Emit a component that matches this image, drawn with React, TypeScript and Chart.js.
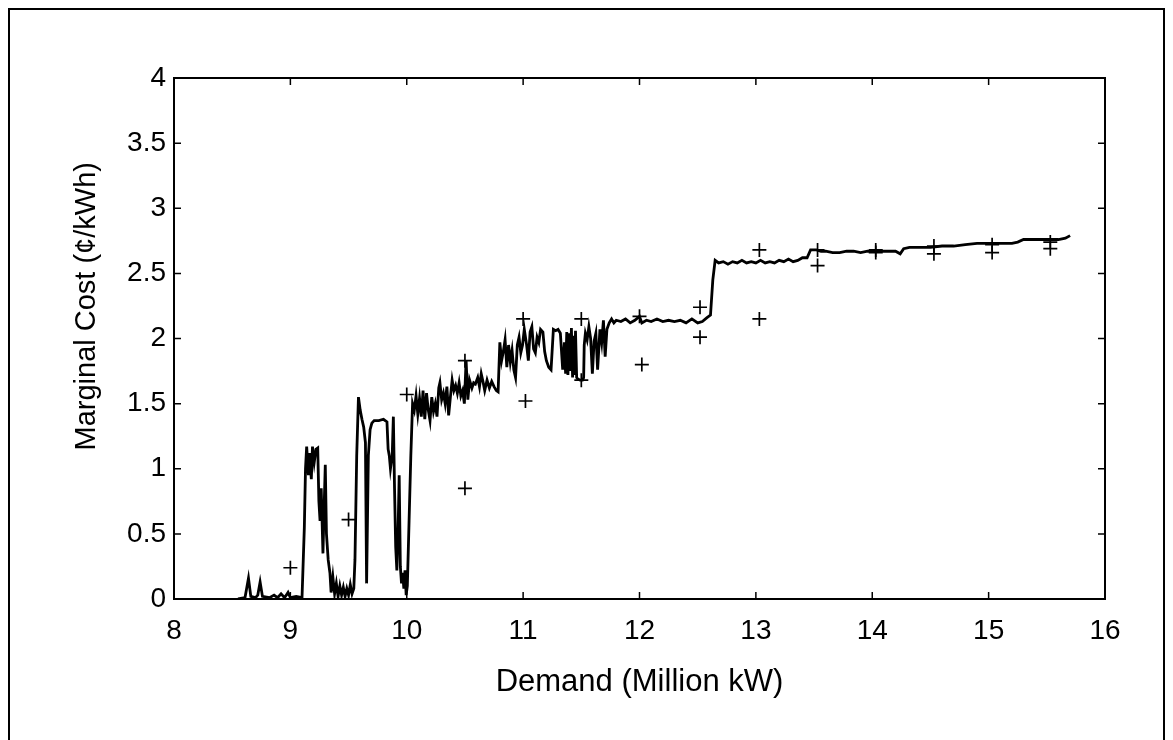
import { useEffect, useRef } from "react";
import { Chart, registerables } from "chart.js";

Chart.register(...registerables);

// Axis ticks
const xTickValues = [8, 9, 10, 11, 12, 13, 14, 15, 16];
const yTickValues = [0, 0.5, 1, 1.5, 2, 2.5, 3, 3.5, 4];

// Simulated marginal cost curve (solid line)
const curveX = [
  8.55, 8.61, 8.64, 8.66, 8.7, 8.72, 8.74, 8.76, 8.82, 8.86, 8.89, 8.92, 8.95, 8.98, 9.0, 9.05, 9.1,
  9.12, 9.13, 9.14, 9.155, 9.165, 9.18, 9.19, 9.205, 9.22, 9.235, 9.245, 9.255, 9.265, 9.28, 9.29, 9.3,
  9.31, 9.325, 9.34, 9.35, 9.365, 9.38, 9.395, 9.41, 9.425, 9.44, 9.455, 9.47, 9.485, 9.5, 9.515, 9.53,
  9.545, 9.555, 9.57, 9.585, 9.6, 9.615, 9.63, 9.645, 9.655, 9.67, 9.685, 9.7, 9.72, 9.76, 9.8, 9.83,
  9.84, 9.85, 9.86, 9.875, 9.885, 9.895, 9.905, 9.915, 9.925, 9.935, 9.945, 9.955, 9.965, 9.975, 9.985,
  9.995, 10.005, 10.02, 10.035, 10.05, 10.065, 10.08, 10.095, 10.11, 10.125, 10.14, 10.155, 10.17,
  10.185, 10.2, 10.215, 10.23, 10.245, 10.26, 10.275, 10.285, 10.3, 10.315, 10.33, 10.345, 10.36,
  10.375, 10.39, 10.405, 10.42, 10.435, 10.45, 10.465, 10.48, 10.495, 10.51, 10.525, 10.54, 10.56,
  10.575, 10.59, 10.61, 10.625, 10.64, 10.655, 10.67, 10.69, 10.71, 10.73, 10.75, 10.77, 10.785, 10.8,
  10.815, 10.83, 10.845, 10.86, 10.875, 10.89, 10.905, 10.92, 10.935, 10.95, 10.965, 10.98, 10.995,
  11.01, 11.03, 11.045, 11.06, 11.075, 11.09, 11.105, 11.12, 11.135, 11.15, 11.17, 11.185, 11.2, 11.22,
  11.24, 11.26, 11.28, 11.3, 11.32, 11.34, 11.355, 11.365, 11.375, 11.385, 11.395, 11.405, 11.415,
  11.425, 11.435, 11.445, 11.45, 11.46, 11.47, 11.49, 11.51, 11.52, 11.525, 11.535, 11.55, 11.565,
  11.58, 11.595, 11.61, 11.625, 11.64, 11.66, 11.675, 11.69, 11.705, 11.72, 11.74, 11.76, 11.78, 11.8,
  11.84, 11.88, 11.92, 11.96, 12.0, 12.02, 12.06, 12.1, 12.15, 12.2, 12.25, 12.3, 12.35, 12.4, 12.45,
  12.5, 12.54, 12.58, 12.61, 12.63, 12.65, 12.68, 12.72, 12.76, 12.8, 12.84, 12.88, 12.92, 12.96, 13.0,
  13.04, 13.08, 13.12, 13.16, 13.2, 13.24, 13.28, 13.32, 13.36, 13.4, 13.44, 13.47, 13.52, 13.56, 13.6,
  13.66, 13.72, 13.78, 13.84, 13.9, 13.96, 14.02, 14.08, 14.14, 14.2, 14.24, 14.27, 14.32, 14.4, 14.5,
  14.6, 14.7, 14.8, 14.9, 15.0, 15.1, 15.2, 15.25, 15.3, 15.4, 15.5, 15.6, 15.66, 15.7,
];
const curveY = [
  0, 0.01, 0.16, 0.02, 0.01, 0.03, 0.13, 0.02, 0.01, 0.03, 0.01, 0.04, 0.01, 0.05, 0.01, 0.02, 0.01,
  0.55, 1.0, 1.17, 0.95, 1.12, 0.92, 1.17, 1.05, 1.15, 1.16, 0.75, 0.6, 0.85, 0.35, 0.7, 1.03,
  0.5, 0.3, 0.2, 0.05, 0.17, 0.04, 0.12, 0.02, 0.1, 0.03, 0.09, 0.02, 0.08, 0.03, 0.11, 0.04,
  0.08, 0.3, 1.1, 1.55, 1.45, 1.38, 1.32, 1.2, 0.12, 1.1, 1.3, 1.35, 1.37, 1.37, 1.38, 1.36,
  1.15, 1.1, 1.0, 1.1, 1.4, 0.85, 0.4, 0.22, 0.5, 0.95, 0.25, 0.12, 0.2, 0.08, 0.22,
  0.03, 0.1, 0.6, 1.1, 1.5, 1.45, 1.56, 1.42, 1.54, 1.4, 1.6, 1.38, 1.58,
  1.45, 1.37, 1.55, 1.44, 1.5, 1.4, 1.62, 1.66, 1.53, 1.58, 1.5, 1.63, 1.41,
  1.55, 1.68, 1.6, 1.64, 1.58, 1.66, 1.56, 1.6, 1.5, 1.83, 1.53, 1.68, 1.62,
  1.66, 1.65, 1.7, 1.63, 1.73, 1.67, 1.6, 1.68, 1.62, 1.67, 1.63, 1.6, 1.59, 1.97,
  1.83, 1.9, 1.99, 1.78, 1.95, 1.82, 1.91, 1.76, 1.7, 1.95, 2.01, 1.89, 1.95,
  2.07, 1.95, 1.83, 2.05, 2.09, 1.92, 1.89, 2.01, 1.97, 2.07, 2.05, 1.9, 1.83, 1.78,
  1.76, 2.07, 2.06, 2.07, 2.04, 1.76, 1.97, 1.73, 2.05, 1.72, 2.04, 1.75, 2.08,
  1.7, 2.02, 1.72, 2.06, 1.7, 1.69, 1.68, 1.68, 1.7, 1.95, 2.04, 1.99, 2.09,
  2.0, 1.73, 1.98, 2.04, 1.76, 2.07, 1.97, 2.14, 1.86, 2.07, 2.12, 2.15, 2.12, 2.14,
  2.13, 2.15, 2.12, 2.14, 2.17, 2.12, 2.14, 2.13, 2.15, 2.13, 2.14, 2.13, 2.14, 2.12, 2.15,
  2.12, 2.13, 2.16, 2.18, 2.45, 2.6, 2.58, 2.59, 2.57, 2.59, 2.58, 2.6, 2.58, 2.59, 2.58,
  2.6, 2.58, 2.59, 2.58, 2.6, 2.59, 2.61, 2.59, 2.6, 2.62, 2.62, 2.68, 2.68, 2.67, 2.67,
  2.66, 2.66, 2.67, 2.67, 2.66, 2.67, 2.67, 2.67, 2.67, 2.67, 2.65, 2.69, 2.7, 2.7, 2.7,
  2.71, 2.71, 2.72, 2.73, 2.73, 2.73, 2.73, 2.74, 2.76, 2.76, 2.76, 2.76, 2.77, 2.79,
];

// Observed marginal costs ("+" markers)
const crossX = [
  9.0, 9.5, 10.0, 10.5, 10.5, 11.0, 11.02, 11.5, 11.5, 12.0, 12.02, 12.52, 12.52, 13.03, 13.03,
  13.53, 13.53, 14.03, 14.03, 14.53, 14.53, 15.03, 15.03, 15.53, 15.53,
];
const crossY = [
  0.24, 0.61, 1.57, 1.83, 0.85, 2.15, 1.52, 2.15, 1.68, 2.17, 1.8, 2.24, 2.01, 2.68, 2.15,
  2.68, 2.56, 2.68, 2.66, 2.71, 2.65, 2.72, 2.66, 2.74, 2.69,
];

const xTitle = "Demand (Million kW)";
const yTitle = "        Marginal Cost (¢/kWh)";

const FONT = "'Liberation Sans', Arial, Helvetica, sans-serif";

const CANVAS_W = 1153;
const CANVAS_H = 720;

const framePlugin = {
  id: "matlabFrame",
  afterDraw(chart: any) {
    const { ctx, chartArea: a, scales } = chart;
    ctx.save();
    ctx.strokeStyle = "#000";
    ctx.lineWidth = 2;
    ctx.strokeRect(a.left, a.top, a.right - a.left, a.bottom - a.top);
    ctx.lineWidth = 1.5;
    const L = 7;
    xTickValues.forEach((v) => {
      const px = scales.x.getPixelForValue(v);
      ctx.beginPath();
      ctx.moveTo(px, a.bottom);
      ctx.lineTo(px, a.bottom - L);
      ctx.moveTo(px, a.top);
      ctx.lineTo(px, a.top + L);
      ctx.stroke();
    });
    yTickValues.forEach((v) => {
      const py = scales.y.getPixelForValue(v);
      ctx.beginPath();
      ctx.moveTo(a.left, py);
      ctx.lineTo(a.left + L, py);
      ctx.moveTo(a.right, py);
      ctx.lineTo(a.right - L, py);
      ctx.stroke();
    });
    ctx.restore();
  },
};

export default function App() {
  const ref = useRef<HTMLCanvasElement>(null);

  useEffect(() => {
    const prevOverflow = document.body.style.overflow;
    document.body.style.overflow = "hidden";
    if (!ref.current) return;
    const chart = new Chart(ref.current, {
      type: "line",
      data: {
        datasets: [
          {
            type: "scatter" as any,
            label: "observed",
            data: crossX.map((x, i) => ({ x, y: crossY[i] })),
            pointStyle: "cross",
            pointRadius: 7,
            pointBorderWidth: 1.7,
            borderColor: "#000",
            backgroundColor: "#000",
            showLine: false,
            order: 0,
          },
          {
            type: "line",
            label: "simulated",
            data: curveX.map((x, i) => ({ x, y: curveY[i] })),
            borderColor: "#000",
            borderWidth: 2.8,
            pointRadius: 0,
            tension: 0,
            fill: false,
            order: 1,
          },
        ],
      },
      options: {
        responsive: false,
        animation: false,
        devicePixelRatio: 1,
        layout: { padding: { top: 68, right: 58, left: 0, bottom: 0 } },
        plugins: { legend: { display: false }, tooltip: { enabled: false } },
        scales: {
          x: {
            type: "linear",
            min: 8,
            max: 16,
            afterFit: (s: any) => {
              s.height = CANVAS_H - 589;
            },
            grid: { display: false, drawTicks: false },
            border: { display: false },
            ticks: {
              stepSize: 1,
              padding: 15,
              color: "#000",
              font: { family: FONT, size: 28 },
              maxRotation: 0,
              callback: (v: any) => String(v),
            },
            title: {
              display: true,
              text: xTitle,
              color: "#000",
              font: { family: FONT, size: 31 },
              padding: { top: 0, bottom: 29 },
            },
          },
          y: {
            type: "linear",
            min: 0,
            max: 4,
            afterFit: (s: any) => {
              s.width = 164;
            },
            grid: { display: false, drawTicks: false },
            border: { display: false },
            ticks: {
              stepSize: 0.5,
              padding: 8,
              color: "#000",
              font: { family: FONT, size: 28 },
              callback: (v: any) => String(v),
            },
            title: {
              display: true,
              text: yTitle,
              color: "#000",
              font: { family: FONT, size: 29 },
              padding: { top: 60, bottom: 0 },
            },
          },
        },
      },
      plugins: [framePlugin],
    });
    return () => {
      chart.destroy();
      document.body.style.overflow = prevOverflow;
    };
  }, []);

  return (
    <div
      style={{
        width: 1157,
        height: 740,
        boxSizing: "border-box",
        borderTop: "2px solid #000",
        borderLeft: "2px solid #000",
        borderRight: "2px solid #000",
        overflow: "hidden",
        background: "#fff",
      }}
    >
      <canvas ref={ref} width={CANVAS_W} height={CANVAS_H} style={{ display: "block" }} />
    </div>
  );
}
